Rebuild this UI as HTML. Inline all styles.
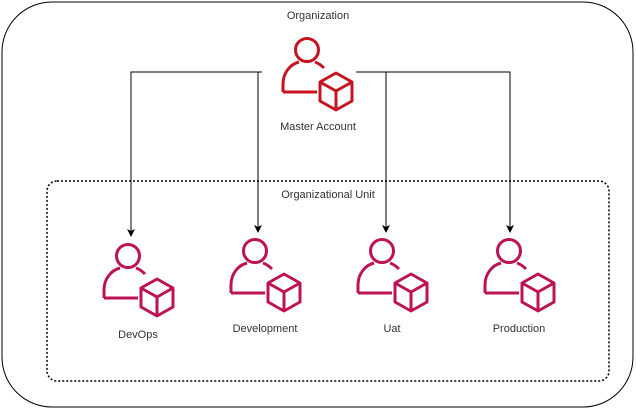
<!DOCTYPE html>
<html><head><style>body{margin:0;background:#fff;}svg{display:block}text{font-family:"Liberation Sans",sans-serif;font-size:11px;fill:#333;text-anchor:middle}</style></head>
<body>
<svg width="636" height="409" viewBox="0 0 636 409">
<defs>
<g id="ic" fill="none" stroke-width="3" stroke-linejoin="round">
<circle cx="27" cy="14" r="11.5"/>
<path d="M3,56 V48 C3,36 11,28 19,26"/>
<path d="M35,26 C38,27 41,29 44,32"/>
<path d="M3,56 H37"/>
<polygon points="56,37 72,46 72,65 56,74 40,65 40,46" fill="#fff"/>
<path d="M40,46 L56,55 L72,46 M56,55 V74"/>
</g>
<marker id="ar" markerWidth="8" markerHeight="8" refX="7" refY="4" orient="auto" markerUnits="userSpaceOnUse"><path d="M0,0 L8,4 L0,8 L2,4z" fill="#000"/></marker>
</defs>
<rect x="2" y="2" width="631" height="405" rx="50" fill="none" stroke="#000" stroke-width="1"/>
<text x="318" y="19">Organization</text>
<rect x="47" y="181" width="562" height="200" rx="10" fill="none" stroke="#000" stroke-width="1.5" stroke-dasharray="2,2"/>
<text x="328" y="198">Organizational Unit</text>
<g stroke="#000" stroke-width="1" fill="none">
<path d="M262,72 H131 V236" marker-end="url(#ar)"/>
<path d="M258,72 V232" marker-end="url(#ar)"/>
<path d="M356,72 H510 V232" marker-end="url(#ar)"/>
<path d="M386,72 V232" marker-end="url(#ar)"/>
</g>
<use href="#ic" x="280" y="36" stroke="#c7131f"/>
<text x="318" y="130">Master Account</text>
<use href="#ic" x="101" y="242" stroke="#bc1356"/>
<text x="138" y="338">DevOps</text>
<use href="#ic" x="228" y="237" stroke="#bc1356"/>
<text x="265" y="332">Development</text>
<use href="#ic" x="355" y="237" stroke="#bc1356"/>
<text x="392" y="332">Uat</text>
<use href="#ic" x="482" y="237" stroke="#bc1356"/>
<text x="519" y="332">Production</text>
</svg>
</body></html>
